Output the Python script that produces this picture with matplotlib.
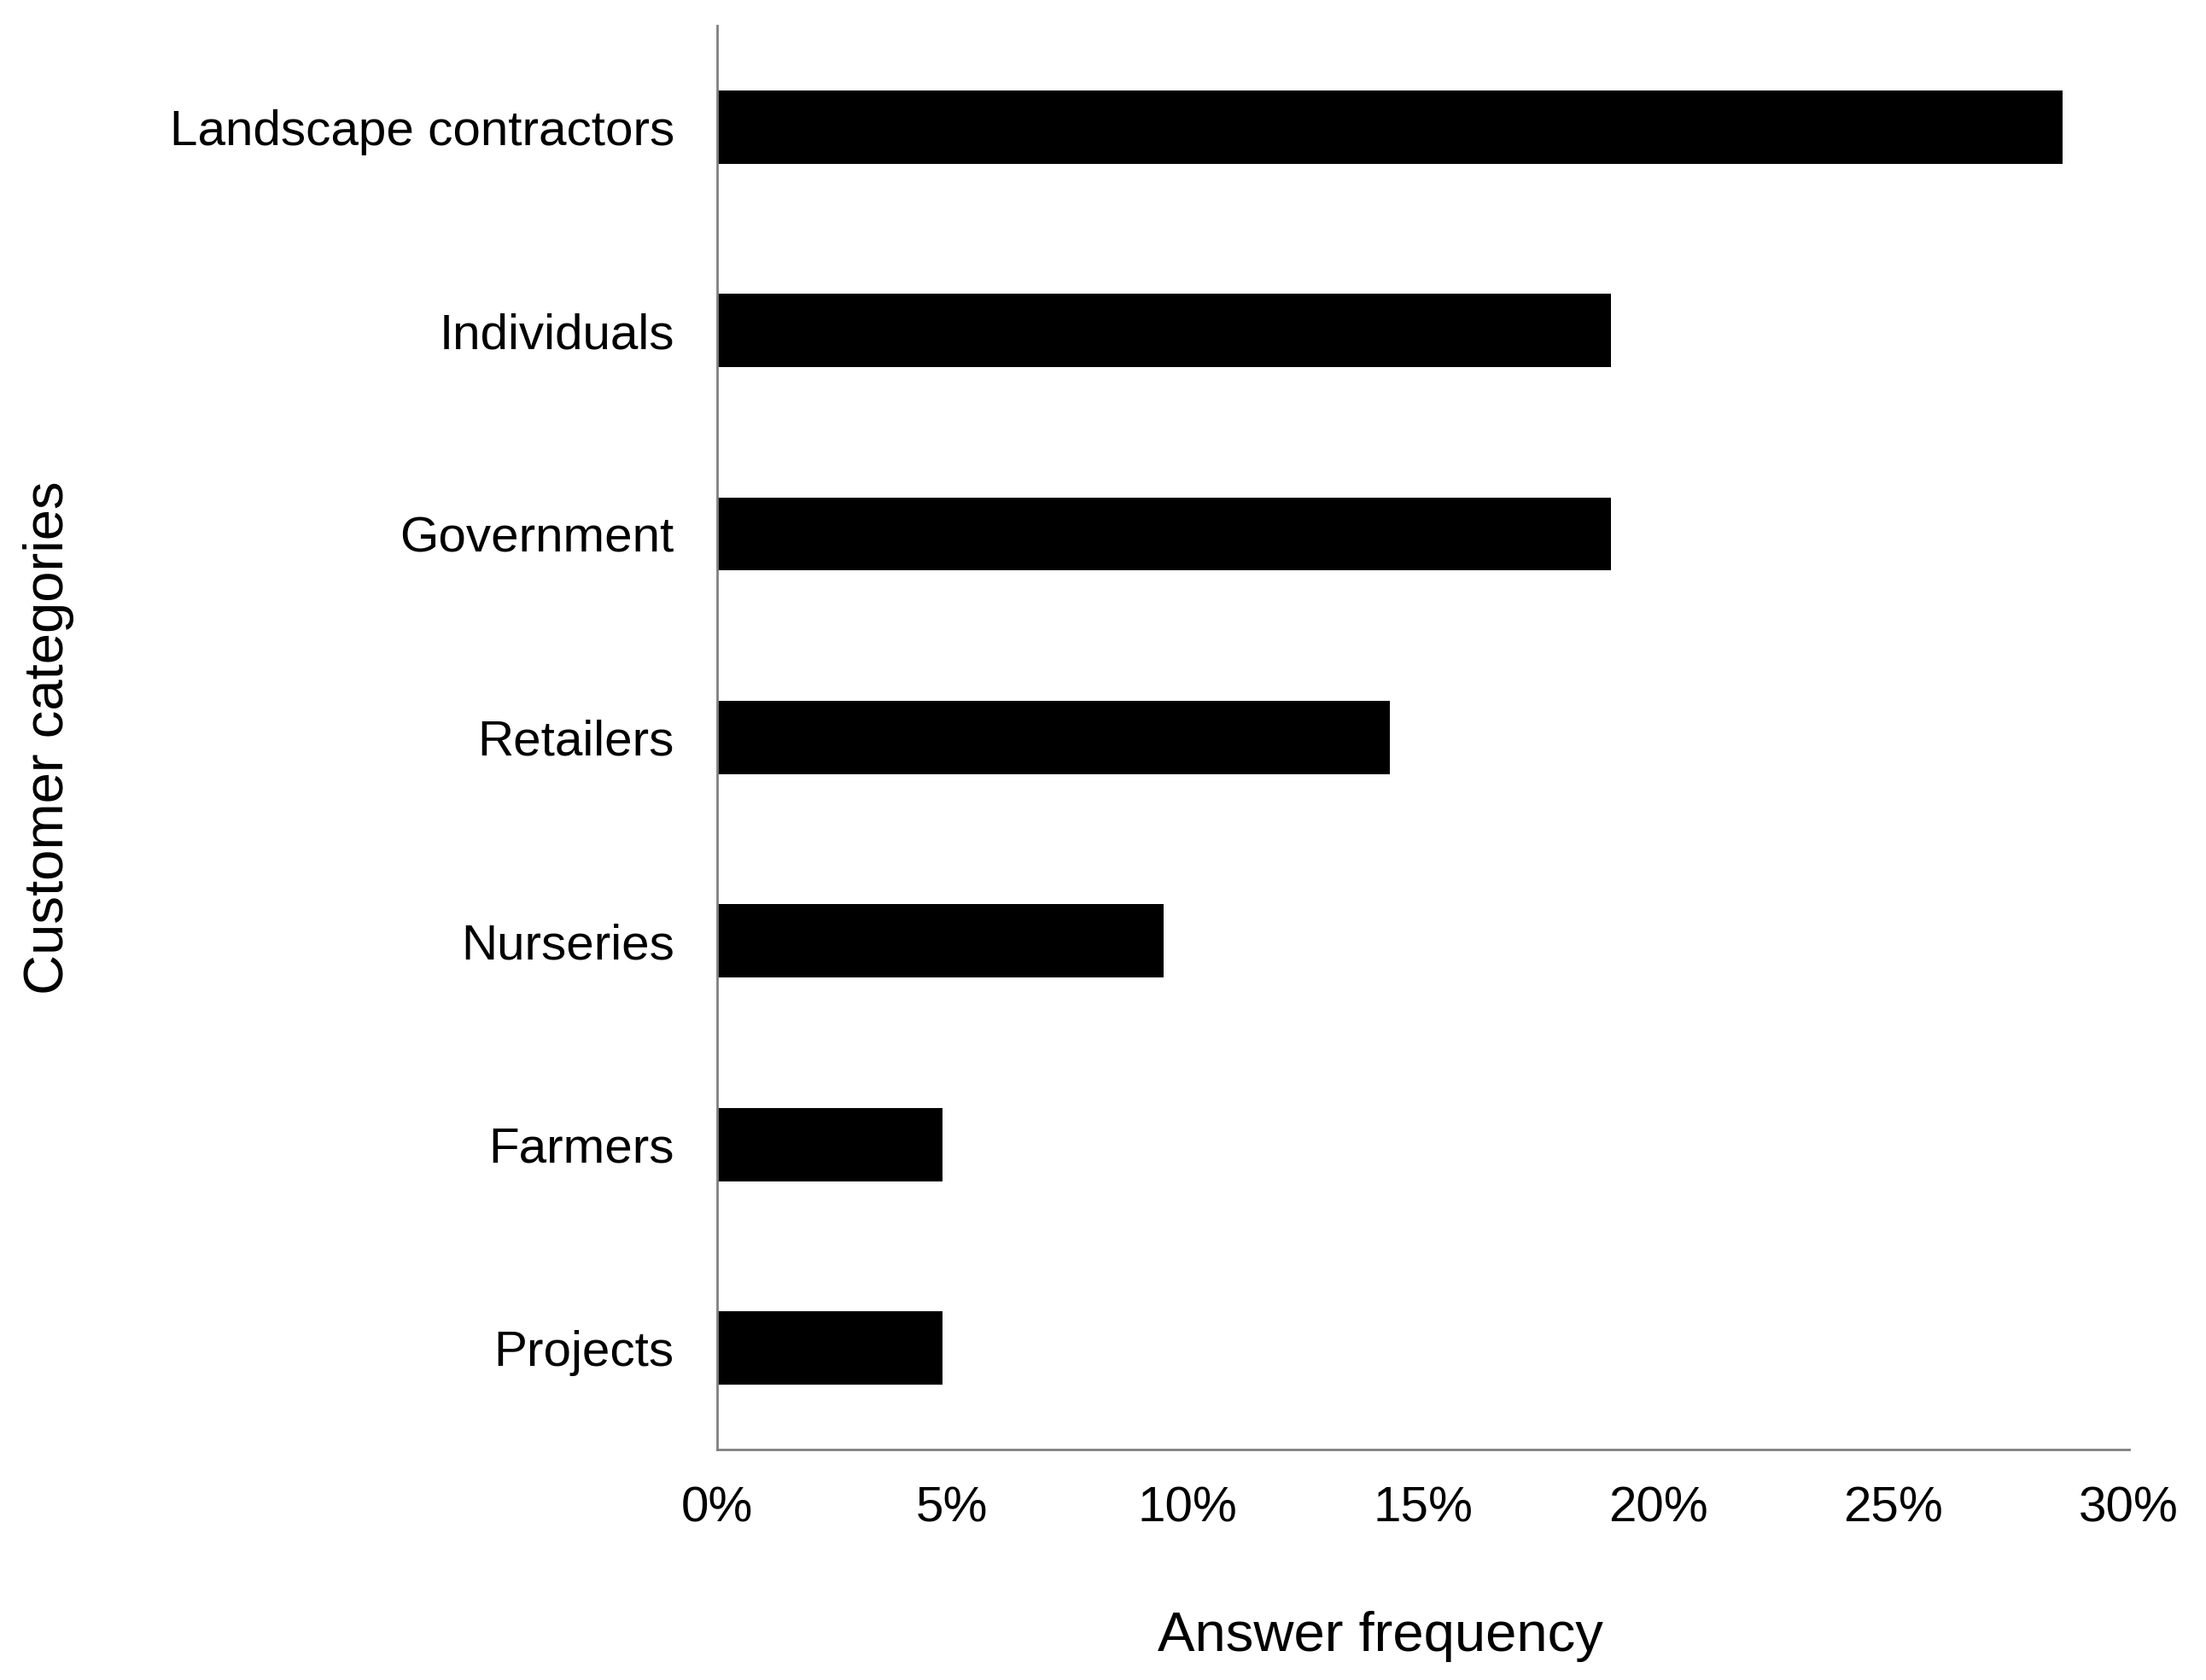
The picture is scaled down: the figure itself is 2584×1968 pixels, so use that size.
import matplotlib.pyplot as plt
from matplotlib.ticker import PercentFormatter

plt.rcParams['font.family'] = ['Liberation Sans', 'DejaVu Sans']

categories = ["Landscape contractors", "Individuals", "Government", "Retailers",
              "Nurseries", "Farmers", "Projects"]
freq = [28.6, 19.0, 19.0, 14.3, 9.5, 4.8, 4.8]
xticks = [0, 5, 10, 15, 20, 25, 30]

fig = plt.figure(figsize=(25.84, 19.68), dpi=100)
ax = fig.add_axes([0.325, 0.137, 0.64, 0.848])

pos = list(range(len(categories)))
ax.barh(pos, freq, height=0.36, color="black")
ax.set_ylim(len(categories) - 0.5, -0.5)
ax.set_xlim(0, 30)
ax.set_yticks(pos)
ax.set_yticklabels(categories, fontsize=42)
ax.set_xticks(xticks)
ax.xaxis.set_major_formatter(PercentFormatter(decimals=0))
ax.tick_params(axis="x", labelsize=42, length=0, pad=30)
ax.tick_params(axis="y", length=0, pad=36)

for s in ["top", "right"]:
    ax.spines[s].set_visible(False)
for s in ["left", "bottom"]:
    ax.spines[s].set_color("#808080")
    ax.spines[s].set_linewidth(2)

ax.set_xlabel("Answer frequency", fontsize=47)
ax.xaxis.set_label_coords(0.47, -0.113)
ax.set_ylabel("Customer categories", fontsize=47)
ax.yaxis.set_label_coords(-0.455, 0.5)

fig.savefig("out.png", dpi=100)
